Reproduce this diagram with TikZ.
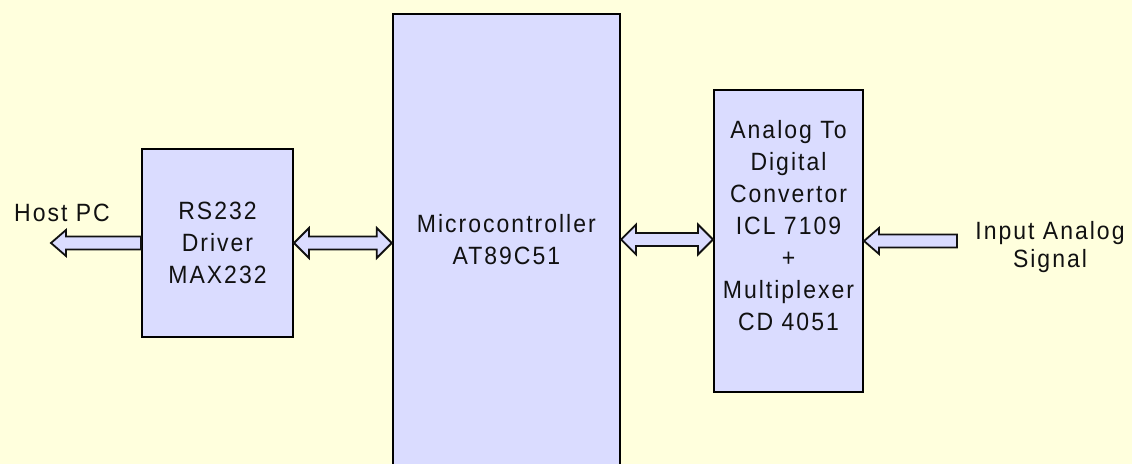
\documentclass[tikz,border=0pt]{standalone}
\usepackage{fontspec}
\setmainfont{Liberation Sans}[LetterSpace=8,FakeStretch=0.92]
\usetikzlibrary{calc}
\definecolor{bgyellow}{RGB}{255,255,221}
\definecolor{boxfill}{RGB}{218,220,255}
\definecolor{inkblack}{RGB}{17,17,17}
\begin{document}
\begin{tikzpicture}[line join=miter,
  block/.style={draw=black,fill=boxfill,line width=2bp,align=center,inner sep=0pt,text=inkblack,font=\fontsize{25bp}{32bp}\selectfont},
  lbl/.style={align=center,inner sep=0pt,text=inkblack,font=\fontsize{25bp}{28bp}\selectfont},
  dblarrow/.style={draw=inkblack,fill=boxfill,line width=1.8bp,
    to path={let \p1=(\tikztostart), \p2=(\tikztotarget) in
      (\x1,\y1) -- (\x1+15bp,\y1+15bp) -- (\x1+15bp,\y1+6.5bp) -- (\x2-15bp,\y1+6.5bp) -- (\x2-15bp,\y1+15bp)
      -- (\x2,\y1) -- (\x2-15bp,\y1-15bp) -- (\x2-15bp,\y1-6.5bp) -- (\x1+15bp,\y1-6.5bp) -- (\x1+15bp,\y1-15bp) -- cycle}},
  sglarrow/.style={draw=inkblack,fill=boxfill,line width=1.8bp,
    to path={let \p1=(\tikztostart), \p2=(\tikztotarget) in
      (\x1,\y1+6.5bp) -- (\x2+15bp,\y1+6.5bp) -- (\x2+15bp,\y1+13bp) -- (\x2,\y1)
      -- (\x2+15bp,\y1-13bp) -- (\x2+15bp,\y1-6.5bp) -- (\x1,\y1-6.5bp) -- cycle}},
]
%%
\useasboundingbox (0bp,0bp) rectangle (1132bp,464bp);
\fill [bgyellow] (0bp,0bp) rectangle (1132bp,464bp);
\node (node_rs) at (217.5bp,221.0bp) [block,minimum width=151bp,minimum height=188bp] {RS232\\Driver\\MAX232};
  \node (node_mcu) at (506.4bp,224.5bp) [block,minimum width=227.3bp,minimum height=451bp] {Microcontroller\\AT89C51};
  \node (node_adc) at (788.5bp,223.0bp) [block,minimum width=149bp,minimum height=302bp] {Analog To\\Digital\\Convertor\\ICL 7109\\+\\Multiplexer\\CD 4051\\~};
  \node (node_host) at (62.0bp,251.2bp) [lbl] {Host PC};
  \node (node_input) at (1050.0bp,217.2bp) [lbl] {Input Analog\\Signal};
  \coordinate (host_end) at (51.0bp,221.0bp);
  \coordinate (input_end) at (957.0bp,223.0bp);
  \draw [sglarrow] (node_rs.west) to (host_end);
  \draw [dblarrow] (node_rs.east) to (node_mcu.west);
  \draw [dblarrow] (node_mcu.east) to (node_adc.west);
  \draw [sglarrow] (input_end) to (node_adc.east);
%
\end{tikzpicture}
\end{document}
